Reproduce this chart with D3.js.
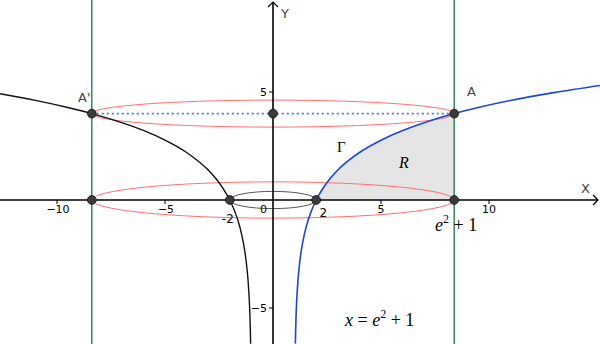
<!DOCTYPE html>
<html><head><meta charset="utf-8">
<script src="https://cdn.jsdelivr.net/npm/d3@7/dist/d3.min.js"></script>
<style>html,body{margin:0;padding:0;background:#fff;overflow:hidden}</style>
</head><body>
<svg id="c" width="600" height="344"></svg>
<script>
// ---- data ----
const xTicks = [-10, -5, 5, 10];
const xTickLabels = ["\u221210", "\u22125", "5", "10"];
const yTicks = [5, -5];
const yTickLabels = ["5", "\u22125"];
const bound = 8.389; // e^2 + 1
// Γ : values (right branch)
const gammaX = [1.036, 1.05, 1.065, 1.08, 1.1, 1.12, 1.15, 1.2, 1.27, 1.35, 1.45, 1.6, 1.75, 2, 2.3, 2.6, 3, 3.5, 4, 5, 6, 7, 8.389, 9.5, 11, 13, 15.2];
const gammaY = [-6.65, -5.99, -5.46, -5.05, -4.61, -4.24, -3.79, -3.22, -2.62, -2.10, -1.60, -1.02, -0.58, 0, 0.52, 0.94, 1.39, 1.83, 2.20, 2.77, 3.22, 3.58, 4.0, 4.28, 4.61, 4.97, 5.31];
// mirrored branch (left, black)
const mirX = [-1.036, -1.05, -1.065, -1.08, -1.1, -1.12, -1.15, -1.2, -1.27, -1.35, -1.45, -1.6, -1.75, -2, -2.3, -2.6, -3, -3.5, -4, -5, -6, -7, -8.389, -9.5, -11, -12.7];
const mirY = [-6.65, -5.99, -5.46, -5.05, -4.61, -4.24, -3.79, -3.22, -2.62, -2.10, -1.60, -1.02, -0.58, 0, 0.52, 0.94, 1.39, 1.83, 2.20, 2.77, 3.22, 3.58, 4.0, 4.28, 4.61, 4.93];
const pointsX = [-bound, 0, bound, -bound, -2, 2, bound];
const pointsY = [4, 4, 4, 0, 0, 0, 0];
// ellipses: center y, half-width, half-height (units)
const ellCY = [4, 0, 0];
const ellRX = [bound, bound, 2];
const ellRY = [0.625, 0.84, 0.40];
const ellColor = ["#ff7070", "#ff7070", "#555"];

// ---- scales ----
const W = 600, H = 344;
const unit = 21.6;
const x = d3.scaleLinear().domain([-273 / unit, (W - 273) / unit]).range([0, W]);
const y = d3.scaleLinear().domain([-(H - 200) / unit, 200 / unit]).range([H, 0]);
const svg = d3.select("#c");

// shaded region R
const gpts = gammaX.map((v, i) => [v, gammaY[i]]);
const region = gpts.filter(p => p[0] >= 2 && p[0] <= bound);
svg.append("path")
  .datum(region)
  .attr("d", d3.area().x(d => x(d[0])).y0(y(0)).y1(d => y(d[1])).curve(d3.curveMonotoneX))
  .attr("fill", "#e5e5e5");

// green vertical lines
[-bound, bound].forEach(v => {
  svg.append("line").attr("x1", x(v)).attr("x2", x(v)).attr("y1", 0).attr("y2", H)
    .attr("stroke", "#2f7d52").attr("stroke-width", 1.4);
});

// ellipses
ellCY.forEach((cy, i) => {
  svg.append("ellipse")
    .attr("cx", x(0)).attr("cy", y(cy))
    .attr("rx", x(ellRX[i]) - x(0)).attr("ry", y(0) - y(ellRY[i]))
    .attr("fill", "none").attr("stroke", ellColor[i]).attr("stroke-width", 1);
});

// dotted line A'A
svg.append("line").attr("x1", x(-bound)).attr("x2", x(bound)).attr("y1", y(4)).attr("y2", y(4))
  .attr("stroke", "#4a72e8").attr("stroke-width", 1.8).attr("stroke-dasharray", "2,3");

// axes
svg.append("line").attr("x1", 0).attr("x2", W - 2).attr("y1", y(0)).attr("y2", y(0))
  .attr("stroke", "#000").attr("stroke-width", 1.6);
svg.append("line").attr("x1", x(0)).attr("x2", x(0)).attr("y1", H).attr("y2", 2)
  .attr("stroke", "#000").attr("stroke-width", 1.6);
svg.append("path").attr("d", `M${W - 7},${y(0) - 5}L${W - 2},${y(0)}L${W - 7},${y(0) + 5}`)
  .attr("fill", "none").attr("stroke", "#000").attr("stroke-width", 1.2);
svg.append("path").attr("d", `M${x(0) - 5},7L${x(0)},2L${x(0) + 5},7`)
  .attr("fill", "none").attr("stroke", "#000").attr("stroke-width", 1.2);

// ticks
xTicks.forEach((t, i) => {
  svg.append("line").attr("x1", x(t)).attr("x2", x(t)).attr("y1", y(0)).attr("y2", y(0) + 4)
    .attr("stroke", "#000").attr("stroke-width", 1);
  svg.append("text").attr("x", x(t) + (t < 0 ? 1 : 0)).attr("y", y(0) + 13)
    .attr("text-anchor", "middle").attr("font-family", "DejaVu Sans, sans-serif").attr("font-size", 11)
    .text(xTickLabels[i]);
});
yTicks.forEach((t, i) => {
  svg.append("line").attr("x1", x(0) - 4).attr("x2", x(0)).attr("y1", y(t)).attr("y2", y(t))
    .attr("stroke", "#000").attr("stroke-width", 1);
  svg.append("text").attr("x", x(0) - 6).attr("y", y(t) + 4)
    .attr("text-anchor", "end").attr("font-family", "DejaVu Sans, sans-serif").attr("font-size", 11)
    .text(yTickLabels[i]);
});
svg.append("text").attr("x", x(0) - 6).attr("y", y(0) + 13).attr("text-anchor", "end")
  .attr("font-family", "DejaVu Sans, sans-serif").attr("font-size", 11).text("0");
svg.append("text").attr("x", x(-2) - 2).attr("y", y(0) + 23).attr("text-anchor", "middle")
  .attr("font-family", "DejaVu Sans, sans-serif").attr("font-size", 12).text("-2");
svg.append("text").attr("x", x(2) + 7).attr("y", y(0) + 17).attr("text-anchor", "middle")
  .attr("font-family", "DejaVu Sans, sans-serif").attr("font-size", 12).text("2");

// curves
const line = d3.line().x(d => x(d[0])).y(d => y(d[1])).curve(d3.curveMonotoneX);
svg.append("path").datum(mirX.map((v, i) => [v, mirY[i]]).reverse())
  .attr("d", line).attr("fill", "none").attr("stroke", "#111").attr("stroke-width", 1.4);
svg.append("path").datum(gpts)
  .attr("d", line).attr("fill", "none").attr("stroke", "#1a47d4").attr("stroke-width", 1.6);

// points
pointsX.forEach((v, i) => {
  svg.append("circle").attr("cx", x(v)).attr("cy", y(pointsY[i])).attr("r", 4.4)
    .attr("fill", "#3a3a3a").attr("stroke", "#111").attr("stroke-width", 0.8);
});

// labels
const sans = "DejaVu Sans, sans-serif";
svg.append("text").attr("x", 78).attr("y", 102).attr("font-family", sans).attr("font-size", 13).attr("fill", "#444").text("A'");
svg.append("text").attr("x", 467).attr("y", 96).attr("font-family", sans).attr("font-size", 13).attr("fill", "#444").text("A");
svg.append("text").attr("x", 281).attr("y", 18).attr("font-family", sans).attr("font-size", 13).attr("fill", "#444").text("Y");
svg.append("text").attr("x", 581).attr("y", 193).attr("font-family", sans).attr("font-size", 13).attr("fill", "#444").text("X");
const serif = "Liberation Serif, DejaVu Serif, serif";
svg.append("text").attr("x", 337).attr("y", 152).attr("font-family", serif).attr("font-size", 15).text("\u0393");
svg.append("text").attr("x", 399).attr("y", 168).attr("font-family", serif).attr("font-style", "italic").attr("font-size", 16).text("R");

const t1 = svg.append("text").attr("x", 435).attr("y", 231).attr("font-family", serif).attr("font-size", 18);
t1.append("tspan").attr("font-style", "italic").text("e");
t1.append("tspan").attr("font-size", 12).attr("dy", -8).text("2");
t1.append("tspan").attr("dy", 8).text(" + 1");

const t2 = svg.append("text").attr("x", 345).attr("y", 326).attr("font-family", serif).attr("font-size", 18);
t2.append("tspan").attr("font-style", "italic").text("x");
t2.append("tspan").text(" = ");
t2.append("tspan").attr("font-style", "italic").text("e");
t2.append("tspan").attr("font-size", 12).attr("dy", -8).text("2");
t2.append("tspan").attr("dy", 8).text(" + 1");
</script>
</body></html>
